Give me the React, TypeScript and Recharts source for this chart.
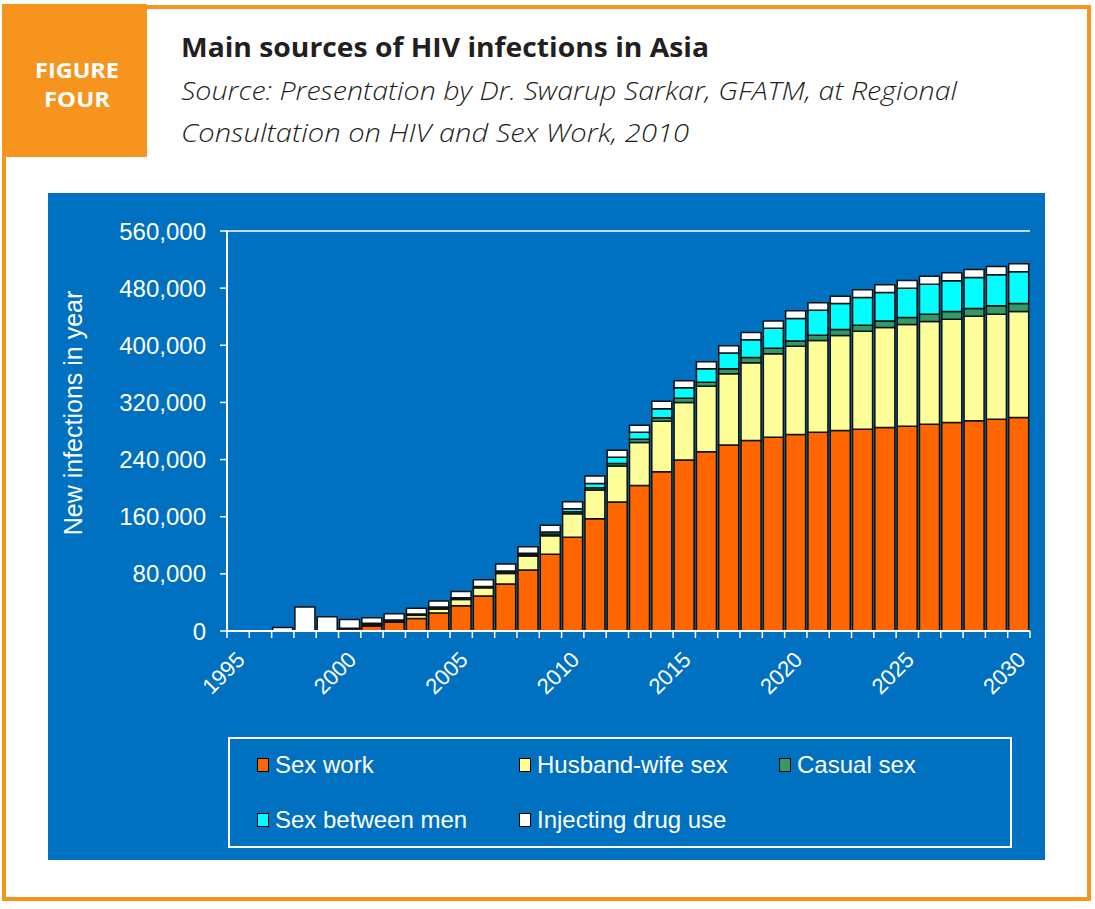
import React from "react";
import { BarChart, Bar, XAxis, YAxis, Legend, ReferenceLine } from "recharts";

const years = [
  "1995", "1996", "1997", "1998", "1999", "2000", "2001", "2002", "2003",
  "2004", "2005", "2006", "2007", "2008", "2009", "2010", "2011", "2012",
  "2013", "2014", "2015", "2016", "2017", "2018", "2019", "2020", "2021",
  "2022", "2023", "2024", "2025", "2026", "2027", "2028", "2029", "2030",
];

const sexWork = [
  0, 0, 0, 0, 0, 3000, 7000, 12300, 17500, 25100, 35400, 49000, 65800, 85300,
  107400, 131400, 157100, 180600, 203800, 223000, 239400, 251000, 260400,
  266800, 271300, 275100, 278400, 280700, 282600, 284900, 286800, 289600,
  291900, 294300, 296600, 298900,
];
const husbandWife = [
  0, 0, 0, 0, 0, 500, 2000, 1800, 4400, 5700, 8800, 11400, 14800, 19700,
  26000, 32900, 40300, 50400, 60200, 70600, 80600, 91500, 99900, 108900,
  117000, 123500, 128200, 132900, 137000, 139900, 142200, 143600, 144600,
  146400, 146900, 148400,
];
const casualSex = [
  0, 0, 0, 0, 0, 300, 1000, 800, 1000, 1500, 1200, 1100, 1800, 2000, 2400,
  2500, 3000, 3500, 4400, 5000, 5700, 5600, 6900, 7300, 7500, 7400, 7400,
  8400, 8400, 9300, 9800, 10300, 10800, 10900, 11700, 11200,
];
const menSex = [
  0, 0, 0, 0, 0, 200, 700, 600, 900, 1200, 1000, 900, 1500, 1700, 2700, 4200,
  6200, 8600, 9800, 12600, 14900, 19100, 22000, 24800, 28100, 31500, 35100,
  36500, 38900, 39800, 41200, 42100, 43000, 43400, 43500, 44400,
];
const drugUse = [
  0, 0, 5000, 33500, 20000, 12000, 7900, 8600, 8200, 8600, 9000, 9400, 9800,
  9300, 9400, 10000, 10300, 9800, 9800, 10400, 9800, 9800, 10200, 10200,
  10200, 10700, 10300, 10300, 10700, 10700, 10800, 11200, 11200, 11200,
  11700, 11200,
];

const yTicks = [0, 80000, 160000, 240000, 320000, 400000, 480000, 560000];

const series = [
  { key: "sexWork", name: "Sex work", color: "#FF6600" },
  { key: "husbandWife", name: "Husband-wife sex", color: "#FFFF99" },
  { key: "casualSex", name: "Casual sex", color: "#339966" },
  { key: "menSex", name: "Sex between men", color: "#00FFFF" },
  { key: "drugUse", name: "Injecting drug use", color: "#FFFFFF" },
];

const data = years.map((year, i) => ({
  year,
  sexWork: sexWork[i],
  husbandWife: husbandWife[i],
  casualSex: casualSex[i],
  menSex: menSex[i],
  drugUse: drugUse[i],
}));

const axisFont = "'Liberation Sans', Arial, sans-serif";
const headFont = "'Open Sans', Lato, sans-serif";
const BLUE = "#0070C0";
const ORANGE = "#F7941D";

const YearTick = (props: any) => {
  const { x, y, payload, index } = props;
  const half = payload && payload.offset ? payload.offset : 11.14;
  const last = index === years.length - 1;
  return (
    <g>
      <line x1={x - half} x2={x - half} y1={y} y2={y + 7} stroke="#fff" strokeWidth={1.5} />
      {last && (
        <line x1={x + half} x2={x + half} y1={y} y2={y + 7} stroke="#fff" strokeWidth={1.5} />
      )}
      {index % 5 === 0 && (
        <text
          x={x + 8}
          y={y + 30}
          transform={`rotate(-45, ${x + 8}, ${y + 30})`}
          textAnchor="end"
          fill="#fff"
          fontSize={22}
          fontFamily={axisFont}
        >
          {payload.value}
        </text>
      )}
    </g>
  );
};

const LegendBox = ({ payload }: any) => {
  const items = series.map((s) =>
    (payload || []).find((p: any) => p.value === s.name) || { value: s.name, color: s.color }
  );
  const cols = [27, 289, 549];
  return (
    <div
      style={{
        position: "relative",
        width: 784,
        height: 111,
        border: "2px solid #fff",
        boxSizing: "border-box",
      }}
    >
      {items.map((entry: any, i: number) => (
        <div
          key={entry.value}
          style={{
            position: "absolute",
            left: cols[i % 3],
            top: i < 3 ? 12 : 67,
            display: "flex",
            alignItems: "center",
            height: 28,
            whiteSpace: "nowrap",
          }}
        >
          <span
            style={{
              display: "inline-block",
              width: 12,
              height: 14,
              background: entry.color,
              border: "1.5px solid #000",
              boxSizing: "border-box",
              marginRight: 6,
            }}
          />
          <span style={{ color: "#fff", fontSize: 24, fontFamily: axisFont }}>
            {entry.value}
          </span>
        </div>
      ))}
    </div>
  );
};

const YLabel = () => (
  <text
    x={34}
    y={220}
    transform="rotate(-90, 34, 220)"
    textAnchor="middle"
    fill="#fff"
    fontSize={25}
    fontFamily={axisFont}
  >
    New infections in year
  </text>
);

export default function App() {
  return (
    <div
      style={{
        position: "absolute",
        left: 0,
        top: 0,
        width: 1095,
        height: 909,
        background: "#fff",
        overflow: "hidden",
      }}
    >
      <div
        style={{
          position: "absolute",
          left: 2,
          top: 5,
          width: 1089,
          height: 896,
          border: `4px solid ${ORANGE}`,
          boxSizing: "border-box",
        }}
      />
      <div
        style={{
          position: "absolute",
          left: 2,
          top: 4,
          width: 145,
          height: 153,
          background: ORANGE,
        }}
      />
      <svg
        width={1095}
        height={190}
        style={{ position: "absolute", left: 0, top: 0 }}
      >
        <text x={77} y={78} textAnchor="middle" fill="#fff" fontSize={21} fontWeight={700} fontFamily={headFont} textLength={84} lengthAdjust="spacingAndGlyphs">
          FIGURE
        </text>
        <text x={77} y={107} textAnchor="middle" fill="#fff" fontSize={21} fontWeight={700} fontFamily={headFont} textLength={66} lengthAdjust="spacingAndGlyphs">
          FOUR
        </text>
        <text x={181} y={57} fill="#231F20" fontSize={26} fontWeight={700} fontFamily={headFont} textLength={528} lengthAdjust="spacingAndGlyphs">
          Main sources of HIV infections in Asia
        </text>
        <text x={181} y={100} fill="#231F20" fontSize={26} fontWeight={300} fontStyle="italic" fontFamily={headFont} textLength={776} lengthAdjust="spacingAndGlyphs">
          Source: Presentation by Dr. Swarup Sarkar, GFATM, at Regional
        </text>
        <text x={181} y={142} fill="#231F20" fontSize={26} fontWeight={300} fontStyle="italic" fontFamily={headFont} textLength={508} lengthAdjust="spacingAndGlyphs">
          Consultation on HIV and Sex Work, 2010
        </text>
      </svg>
      <div
        style={{
          position: "absolute",
          left: 48,
          top: 193,
          width: 997,
          height: 667,
          background: BLUE,
        }}
      >
        <BarChart
          width={997}
          height={667}
          data={data}
          barCategoryGap={1}
          margin={{ top: 38, right: 15, bottom: 129, left: 0 }}
        >
          <XAxis
            dataKey="year"
            interval={0}
            height={100}
            tickSize={0}
            tickMargin={0}
            tickLine={false}
            axisLine={{ stroke: "#fff", strokeWidth: 2 }}
            tick={<YearTick />}
          />
          <YAxis
            width={179}
            domain={[0, 560000]}
            ticks={yTicks}
            tickSize={7}
            tickMargin={14}
            tickFormatter={(v: number) => v.toLocaleString("en-US")}
            tick={{ fill: "#fff", fontSize: 24, fontFamily: axisFont }}
            tickLine={{ stroke: "#fff", strokeWidth: 1.5 }}
            axisLine={{ stroke: "#fff", strokeWidth: 2 }}
            label={<YLabel />}
          />
          <YAxis
            yAxisId="right"
            orientation="right"
            width={0}
            domain={[0, 560000]}
            tick={false}
            tickLine={false}
            axisLine={{ stroke: "#fff", strokeWidth: 1.5 }}
          />
          <ReferenceLine y={560000} stroke="#fff" strokeWidth={1.5} />
          <Legend
            layout="horizontal"
            verticalAlign="middle"
            align="center"
            content={<LegendBox />}
            wrapperStyle={{ left: 180, top: 544, width: 784, height: 111 }}
          />
          {series.map((s) => (
            <Bar
              key={s.key}
              dataKey={s.key}
              name={s.name}
              stackId="a"
              fill={s.color}
              stroke="#111"
              strokeWidth={1.5}
              isAnimationActive={false}
            />
          ))}
        </BarChart>
      </div>
    </div>
  );
}
